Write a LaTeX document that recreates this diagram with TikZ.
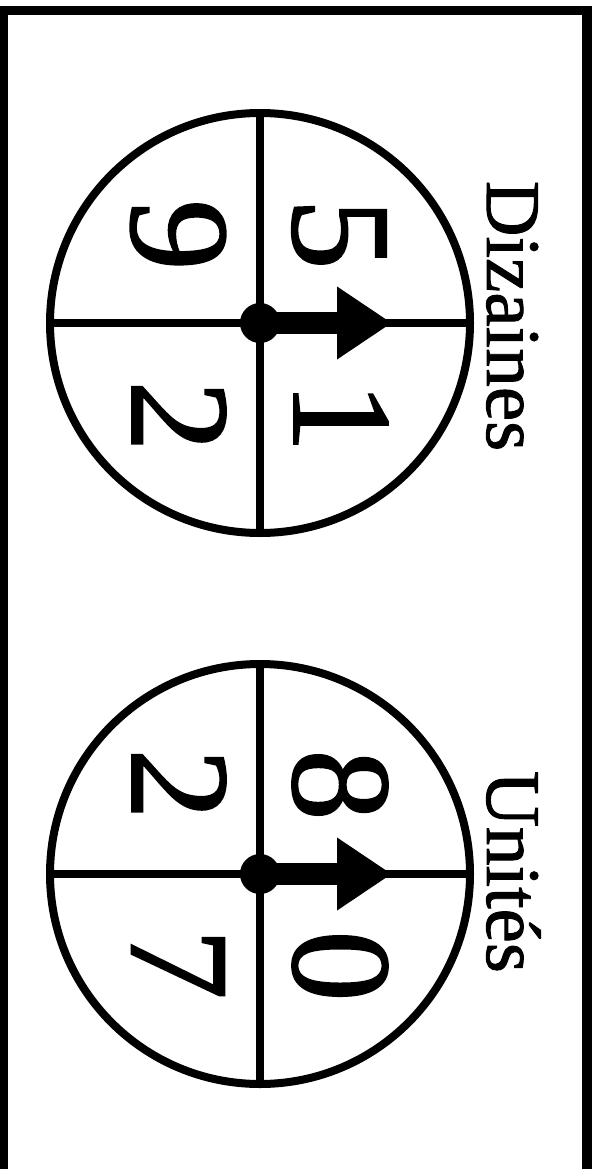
\documentclass[tikz,border=0pt]{standalone}
\usepackage{fontspec}
\setmainfont{Liberation Serif}[FakeBold=1.2]
\usetikzlibrary{arrows.meta}

\begin{document}
\begin{tikzpicture}[x=0.02cm, y=0.02cm, >={Triangle[length=1.1cm, width=1.38cm]}]

% Styles for the two spinners
\tikzstyle{digit} = [rotate=-90, font=\fontsize{81}{81}\selectfont, inner sep=0pt]
\tikzstyle{title} = [rotate=-90, anchor=base, font=\fontsize{44}{44}\selectfont, inner sep=0pt]
\tikzstyle{disc} = [line width=0.16cm]
\tikzstyle{cross} = [line width=0.15cm]
\tikzstyle{pointer} = [->, line width=0.44cm]

\useasboundingbox (0,0) rectangle (599,-1169);
\clip (0,0) rectangle (599,-1169);

% Frame (open at the bottom)
\draw[line width=0.19cm] (3.5,-1180) -- (3.5,-10.5) -- (587,-10.5) -- (587,-1180);

% Dizaines spinner
\coordinate (dc) at (260,-323);
\coordinate (dtip) at (392,-323);
\draw[disc] (dc) circle (210);
\draw[cross] (dc) ++(-210,0) -- ++(420,0);
\draw[cross] (dc) ++(0,210) -- ++(0,-420);
\draw[pointer] (dc) -- (dtip);
\fill (dc) circle (20);
\node[digit] (d5) at (339,-234) {5};
\node[digit] (d9) at (178,-235) {9};
\node[digit] (d1) at (341,-417) {1};
\node[digit] (d2) at (179,-416) {2};
\node[title] (dtitle) at (487,-316) {Dizaines};

% Unites spinner
\coordinate (uc) at (260,-874);
\coordinate (utip) at (392,-874);
\draw[disc] (uc) circle (210);
\draw[cross] (uc) ++(-210,0) -- ++(420,0);
\draw[cross] (uc) ++(0,210) -- ++(0,-420);
\draw[pointer] (uc) -- (utip);
\fill (uc) circle (20);
\node[digit] (u8) at (340,-785) {8};
\node[digit] (u2) at (179,-784) {2};
\node[digit] (u0) at (340,-966) {0};
\node[digit] (u7) at (178,-964) {7};
\node[title] (utitle) at (487,-872) {Unités};

\end{tikzpicture}
\end{document}
